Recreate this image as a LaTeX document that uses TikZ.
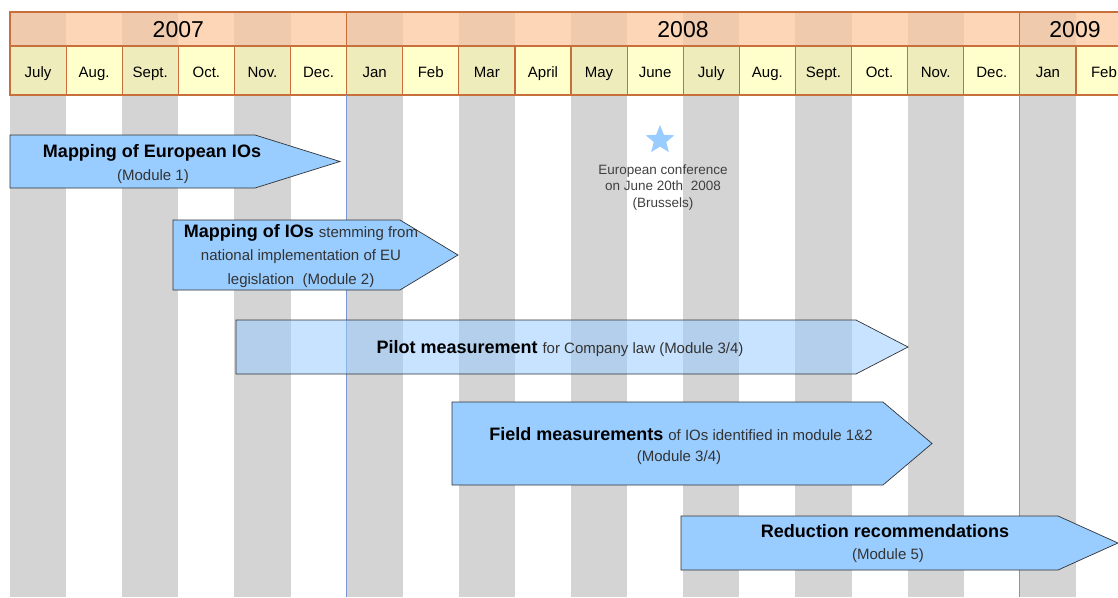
\documentclass[tikz,border=0pt]{standalone}
\usepackage{fontspec}
\setmainfont{Liberation Sans}
\usetikzlibrary{shapes.geometric}

\definecolor{stripegray}{RGB}{212,212,212}
\definecolor{yearpeach}{RGB}{252,214,182}
\definecolor{yeardark}{RGB}{240,202,172}
\definecolor{monlight}{RGB}{255,255,204}
\definecolor{mondark}{RGB}{238,236,186}
\definecolor{cellline}{RGB}{200,112,60}
\definecolor{yearblue}{RGB}{120,150,205}
\definecolor{modblue}{RGB}{153,204,255}
\definecolor{subgray}{RGB}{51,51,51}

\tikzset{modbox/.style={draw=black!80, fill=modblue, line width=0.7pt}}
\tikzset{ttl/.style={font=\bfseries\fontsize{18}{21}\selectfont, anchor=base, inner sep=0pt}}
\tikzset{sub/.style={font=\fontsize{15}{18}\selectfont, text=subgray, anchor=base, inner sep=0pt}}
\tikzset{mon/.style={font=\fontsize{15}{18}\selectfont, anchor=base, inner sep=0pt}}
\tikzset{yr/.style={font=\fontsize{23}{26}\selectfont, anchor=base, inner sep=0pt}}
\tikzset{conf/.style={font=\fontsize{13.5}{16}\selectfont, text=black!75, anchor=base, inner sep=0pt}}

\newcommand{\modrest}[1]{{\mdseries\fontsize{15}{18}\selectfont\color{subgray}#1}}

\begin{document}
\begin{tikzpicture}[x=1pt,y=-1pt]
\useasboundingbox (0,0) rectangle (1118,597);
% grey month stripes
\foreach \i in {0,2,...,18}
  \fill[stripegray] (10+\i*56.1,95) rectangle ++(56.1,502);
% header rows
\fill[yearpeach] (10,12) rectangle (1118,46);
\fill[monlight] (10,46) rectangle (1118,95);
\foreach \i in {0,2,...,18} {
  \fill[yeardark] (10+\i*56.1,12) rectangle ++(56.1,34);
  \fill[mondark] (10+\i*56.1,46) rectangle ++(56.1,49);
}
\draw[cellline, line width=1.2pt] (1118,12) -- (10,12) -- (10,95) -- (1118,95);
\draw[cellline, line width=1.2pt] (10,46) -- (1118,46);
\foreach \i in {1,...,19}
  \draw[cellline, line width=1.2pt] (10+\i*56.1,46) -- ++(0,49);
\draw[cellline, line width=1.2pt] (346.6,12) -- (346.6,46) (1019.8,12) -- (1019.8,46);
% year boundaries
\draw[yearblue, line width=0.8pt] (346.6,95) -- (346.6,597) (1019.8,95) -- (1019.8,597);

\node[yr] (y7) at (178.3,37) {2007};
\node[yr] (y8) at (683,37) {2008};
\node[yr] (y9) at (1075,37) {2009};
\foreach \m [count=\i from 0] in {July,Aug.,Sept.,Oct.,Nov.,Dec.,Jan,Feb,Mar,April,May,June,July,Aug.,Sept.,Oct.,Nov.,Dec.,Jan,Feb}
  \node[mon] (mon\i) at (38.05+\i*56.1,77) {\m};

% modules
\draw[modbox] (10,135) -- (255,135) -- (340,161.5) -- (255,188) -- (10,188) -- cycle;
\node[ttl] (m1a) at (152,157) {Mapping of European IOs};
\node[sub] (m1b) at (153,180) {(Module 1)};

\draw[modbox] (173,220) -- (400,220) -- (458,255) -- (400,290) -- (173,290) -- cycle;
\node[ttl] (m2a) at (301,237) {Mapping of IOs \modrest{stemming from}};
\node[sub] (m2b) at (301,260) {national implementation of EU};
\node[sub] (m2c) at (301,284) {legislation\ \ (Module 2)};

\draw[modbox, fill opacity=0.55] (236,320) -- (856,320) -- (908,347) -- (856,374) -- (236,374) -- cycle;
\node[ttl] (m34) at (560,353) {Pilot measurement \modrest{for Company law (Module 3/4)}};

\draw[modbox] (452,402) -- (883,402) -- (932,443.5) -- (883,485) -- (452,485) -- cycle;
\node[ttl] (f1) at (681,440) {Field measurements \modrest{of IOs identified in module 1\&2}};
\node[sub] (f2) at (679,461) {(Module 3/4)};

\draw[modbox] (681,516) -- (1058,516) -- (1118,543) -- (1058,570) -- (681,570) -- cycle;
\node[ttl] (m5a) at (885,537) {Reduction recommendations};
\node[sub] (m5b) at (888,559) {(Module 5)};

% conference
\node[star, star points=5, star point ratio=2.3, fill=modblue, minimum size=30pt, inner sep=0pt] (star) at (660,140) {};
\node[conf] (c1) at (663,174) {European conference};
\node[conf] (c2) at (663,190) {on June 20th\ \ 2008};
\node[conf] (c3) at (663,207) {(Brussels)};
\end{tikzpicture}
\end{document}
